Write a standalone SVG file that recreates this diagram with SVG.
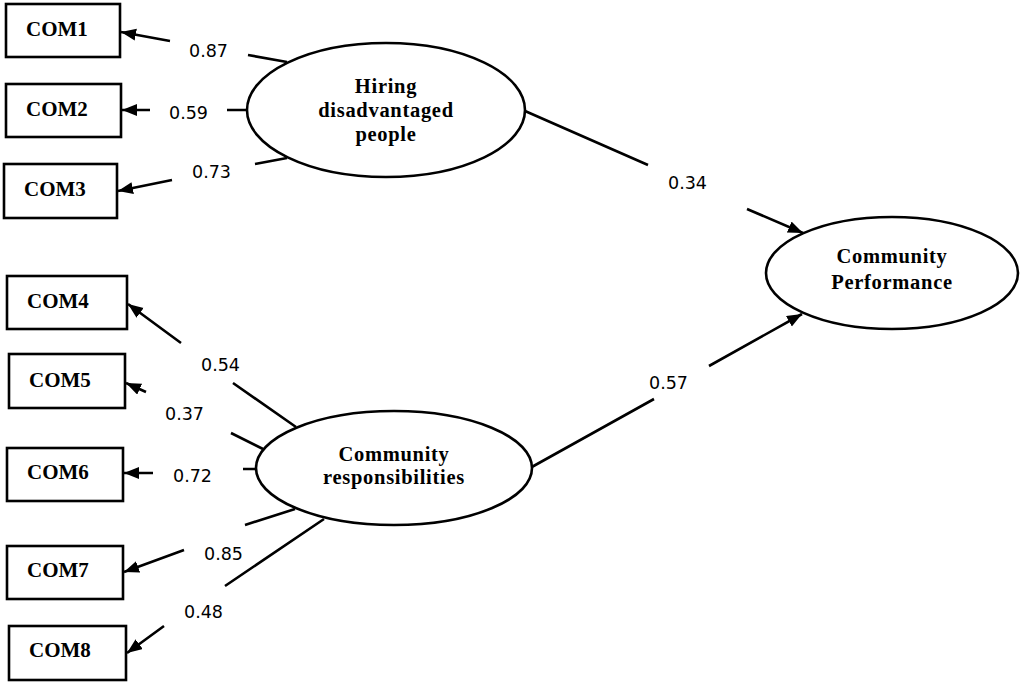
<svg xmlns="http://www.w3.org/2000/svg" width="1024" height="686" viewBox="0 0 1024 686">
<style>
.box{fill:#fff;stroke:#000;stroke-width:2.6}
.ell{fill:#fff;stroke:#000;stroke-width:2.6}
.lbl{font-family:"Liberation Serif","Times New Roman",serif;font-weight:bold;font-size:21px;fill:#000}
.lat{font-family:"Liberation Serif","Times New Roman",serif;font-weight:bold;font-size:20.5px;fill:#000;text-anchor:middle;letter-spacing:0.7px}
.num{font-family:"DejaVu Sans",Verdana,sans-serif;font-size:17.5px;fill:#000}
.con{fill:none;stroke:#000;stroke-width:2.6;marker-end:url(#arr)}
</style>
<defs>
<marker id="arr" markerUnits="userSpaceOnUse" markerWidth="18" markerHeight="14" refX="15" refY="6" orient="auto">
<path d="M0,0 L15,6 L0,12 z" fill="#000"/>
</marker>
</defs>
<rect width="1024" height="686" fill="#fff"/>
<g id="connectors">
<path class="con" d="M287,62 L248,55 M170,41 L121,32"/>
<path class="con" d="M247,110 L227,110 M150,110 L122,110"/>
<path class="con" d="M287,158 L255,164 M172,180 L118,191"/>
<path class="con" d="M296,427 L233,383 M181,343 L128,304"/>
<path class="con" d="M263,449 L231,433 M146,392 L126,383"/>
<path class="con" d="M257,469 L243,469 M153,473 L124,473"/>
<path class="con" d="M295,509 L245,525 M184,550 L124,572"/>
<path class="con" d="M324,519 L225,586 M164,626 L127,653"/>
<path class="con" d="M525,111 L648,165 M747,209 L803,233"/>
<path class="con" d="M530,468 L654,399 M709,366 L802,314"/>
<text class="num" x="189" y="57">0.87</text>
<text class="num" x="169" y="119">0.59</text>
<text class="num" x="192" y="178">0.73</text>
<text class="num" x="201" y="371">0.54</text>
<text class="num" x="165" y="420">0.37</text>
<text class="num" x="173" y="482">0.72</text>
<text class="num" x="204" y="560">0.85</text>
<text class="num" x="184" y="618">0.48</text>
<text class="num" x="668" y="189">0.34</text>
<text class="num" x="649" y="389">0.57</text>
</g>
<g id="com1"><rect class="box" x="6" y="4" width="114" height="53"/><text class="lbl" x="26" y="36">COM1</text></g>
<g id="com2"><rect class="box" x="6" y="84" width="115" height="53"/><text class="lbl" x="26" y="116">COM2</text></g>
<g id="com3"><rect class="box" x="4" y="164" width="113" height="54"/><text class="lbl" x="24" y="196">COM3</text></g>
<g id="com4"><rect class="box" x="7" y="276" width="120" height="53"/><text class="lbl" x="27" y="308">COM4</text></g>
<g id="com5"><rect class="box" x="9" y="354" width="116" height="54"/><text class="lbl" x="29" y="387">COM5</text></g>
<g id="com6"><rect class="box" x="7" y="448" width="116" height="53"/><text class="lbl" x="27" y="479">COM6</text></g>
<g id="com7"><rect class="box" x="7" y="546" width="116" height="53"/><text class="lbl" x="27" y="577">COM7</text></g>
<g id="com8"><rect class="box" x="9" y="626" width="117" height="54"/><text class="lbl" x="29" y="657">COM8</text></g>
<g id="hiring">
<ellipse class="ell" cx="386" cy="110" rx="139" ry="67"/>
<text class="lat" x="386" y="93">Hiring</text>
<text class="lat" x="386" y="117">disadvantaged</text>
<text class="lat" x="386" y="141">people</text>
</g>
<g id="responsibilities">
<ellipse class="ell" cx="394" cy="468" rx="138" ry="57"/>
<text class="lat" x="394" y="461">Community</text>
<text class="lat" x="394" y="484">responsibilities</text>
</g>
<g id="performance">
<ellipse class="ell" cx="892" cy="273" rx="126" ry="56"/>
<text class="lat" x="892" y="263">Community</text>
<text class="lat" x="892" y="289">Performance</text>
</g>
</svg>
